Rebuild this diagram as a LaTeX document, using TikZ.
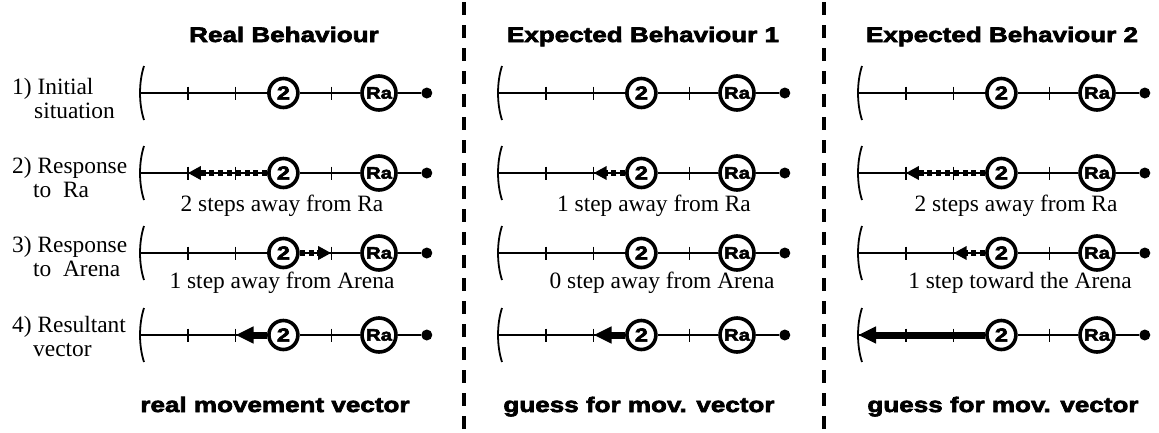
\documentclass[tikz,border=0pt]{standalone}
\usepackage{fontspec}
\setmainfont{Liberation Serif}
\newfontfamily\heavy[BoldFeatures={FakeBold=3.2,FakeStretch=1.24}]{Liberation Sans}
\usetikzlibrary{arrows.meta}

\tikzset{
  axis/.style={line width=1.4pt},
  tickmark/.style={line width=1.4pt},
  wall/.style={line width=1.8pt},
  agent/.style={circle,draw,line width=3.6pt,fill=white,minimum size=29pt,inner sep=0pt,
    font=\heavy\bfseries\fontsize{19}{19}\selectfont},
  robot/.style={agent,minimum size=34pt,font=\heavy\bfseries\fontsize{16.5}{16.5}\selectfont},
  endpoint/.style={circle,fill=black,minimum size=11pt,inner sep=0pt},
  response/.style={line width=5.5pt,dash pattern=on 5pt off 3.8pt,
    -{Triangle[length=13pt,width=13pt]}},
  resultant/.style={line width=7pt,-{Triangle[length=18pt,width=16pt]}},
  caption/.style={font=\fontsize{23.4}{23.5}\selectfont,inner sep=0pt,anchor=base},
  rowlabel/.style={caption,align=left,anchor=base west},
  heading/.style={font=\heavy\bfseries\fontsize{21}{21}\selectfont,inner sep=0pt,anchor=base},
  divider/.style={line width=3.8pt,dash pattern=on 13pt off 10pt},
}

\begin{document}
\begin{tikzpicture}[x=1pt,y=-1pt]
\useasboundingbox (0,0) rectangle (1159,432);

% three panels, four tracks each
\foreach \p/\xo in {A/140,B/498,C/858} {
  \foreach \r/\yo in {1/93,2/173,3/253,4/335} {
    \coordinate (\p\r-0) at (\xo,\yo);
    \coordinate (\p\r-1) at (\xo+47.8,\yo);
    \coordinate (\p\r-2) at (\xo+95.6,\yo);
    \coordinate (\p\r-4) at (\xo+191.2,\yo);
    % arena wall
    \draw[wall] (\xo+4,\yo-27) .. controls (\xo-1.3,\yo-11) and (\xo-1.3,\yo+11) .. (\xo+4,\yo+27);
    % robots and goal
    \node[agent] (\p\r-two) at (\xo+143.4,\yo) {2};
    \node[robot] (\p\r-ra) at (\xo+239,\yo) {Ra};
    \node[endpoint] (\p\r-end) at (\xo+286.8,\yo) {};
    \draw[axis] (\p\r-0) -- (\p\r-two);
    \draw[axis] (\p\r-two) -- (\p\r-ra);
    \draw[axis] (\p\r-ra) -- (\p\r-end);
  }
}

% movement vectors
\draw[response] (A2-two) -- (A2-1);
\draw[response] (A3-two) -- (A3-4);
\draw[resultant] (A4-two) -- (A4-2);
\draw[response] (B2-two) -- (B2-2);
\draw[resultant] (B4-two) -- (B4-2);
\draw[response] (C2-two) -- (C2-1);
\draw[response] (C3-two) -- (C3-2);
\draw[resultant] (C4-two) -- (C4-0);

% step ticks, on top of the vectors
\foreach \p in {A,B,C}
  \foreach \r in {1,2,3,4}
    \foreach \t in {1,2,4}
      \draw[tickmark] (\p\r-\t) ++(0,-6.5) -- ++(0,13);

% step captions
\node[caption] (capA2) at (282,211) {2 steps away from Ra};
\node[caption] (capA3) at (282,288) {1 step away from Arena};
\node[caption] (capB2) at (654,211) {1 step away from Ra};
\node[caption] (capB3) at (662,288) {0 step away from Arena};
\node[caption] (capC2) at (1016,211) {2 steps away from Ra};
\node[caption] (capC3) at (1020,288) {1 step toward the Arena};

% row labels (anchored on the baseline of the second line)
\node[rowlabel] (row1) at (12,118) {1) Initial\\\hspace*{22pt}situation};
\node[rowlabel] (row2) at (12,197) {2) Response\\\hspace*{21pt}to\ \ Ra};
\node[rowlabel] (row3) at (12,276) {3) Response\\\hspace*{21pt}to\ \ Arena};
\node[rowlabel] (row4) at (12,356) {4) Resultant\\\hspace*{21pt}vector};

% headings
\node[heading] (h1) at (284,42) {Real Behaviour};
\node[heading] (h2) at (643,42) {Expected Behaviour 1};
\node[heading] (h3) at (1002,42) {Expected Behaviour 2};
\node[heading] (f1) at (275,412) {real movement vector};
\node[heading] (f2) at (639,412) {guess for mov. vector};
\node[heading] (f3) at (1003,412) {guess for mov. vector};

% panel separators
\coordinate (s1top) at (464,2);
\coordinate (s1bot) at (464,432);
\coordinate (s2top) at (824,2);
\coordinate (s2bot) at (824,432);
\draw[divider] (s1top) -- (s1bot);
\draw[divider] (s2top) -- (s2bot);
\end{tikzpicture}
\end{document}
